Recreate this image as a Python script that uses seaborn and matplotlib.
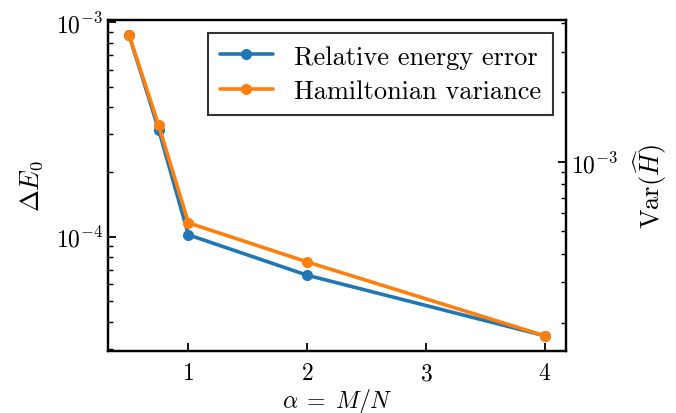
import numpy as np
import matplotlib
matplotlib.use("Agg")
import matplotlib.pyplot as plt
import seaborn as sns

# values
alpha = [0.5, 0.75, 1.0, 2.0, 4.0]
energy_error = [8.73e-4, 3.15e-4, 1.02e-4, 6.61e-5, 3.45e-5]
ham_variance = [3.56e-3, 1.44e-3, 5.44e-4, 3.68e-4, 1.76e-4]

sns.set_style("ticks")
plt.rcParams["font.family"] = ["cmr10", "DejaVu Serif"]
plt.rcParams["mathtext.fontset"] = "cm"
plt.rcParams["axes.formatter.use_mathtext"] = True
plt.rcParams["axes.unicode_minus"] = False
plt.rcParams["xtick.direction"] = "in"
plt.rcParams["ytick.direction"] = "in"
for key in ["text.color", "axes.labelcolor", "xtick.color", "ytick.color"]:
    plt.rcParams[key] = "black"

blue = "#1f77b4"
orange = "#ff7f0e"

fig = plt.figure(figsize=(6.76, 4.14), dpi=100)
ax = fig.add_axes([0.160, 0.150, 0.677, 0.800])
ax.set_yscale("log")
ax2 = ax.twinx()
ax2.set_yscale("log")

sns.lineplot(x=alpha, y=energy_error, ax=ax, color=blue, marker="o",
             markersize=8, markeredgewidth=0, linewidth=2.6,
             label="Relative energy error", legend=False)
sns.lineplot(x=alpha, y=ham_variance, ax=ax2, color=orange, marker="o",
             markersize=8, markeredgewidth=0, linewidth=2.6,
             label="Hamiltonian variance", legend=False)

ax.set_xticks([1, 2, 3, 4])
ax.set_xlabel(r"$\alpha\;=\;M/N$", fontsize=17, labelpad=1)
ax.set_ylabel(r"$\Delta E_0$", fontsize=19, labelpad=8)
ax2.set_ylabel(r"$\mathrm{Var}(\widehat{H})$", fontsize=19, labelpad=10)

for a in (ax, ax2):
    for s in a.spines.values():
        s.set_linewidth(1.6)
        s.set_color("black")
    a.tick_params(which="major", length=6, width=1.3, labelsize=17)
    a.tick_params(which="minor", length=3.5, width=1.0)
ax.tick_params(axis="x", pad=8)

handles = ax.get_lines()[:1] + ax2.get_lines()[:1]
leg = ax.legend(handles, ["Relative energy error", "Hamiltonian variance"],
                loc="upper right", fontsize=19, fancybox=False, framealpha=1,
                edgecolor="#333333", borderpad=0.45, handlelength=2.0,
                labelspacing=0.4, borderaxespad=0.5)
leg.get_frame().set_linewidth(1.5)

fig.savefig("out.png", dpi=100)
